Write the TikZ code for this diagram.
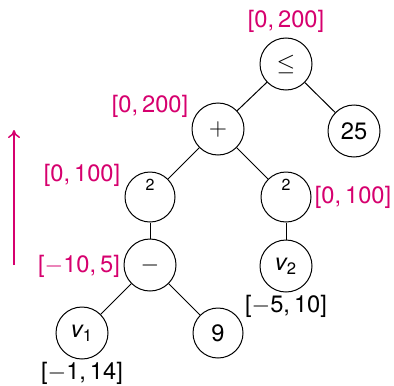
\documentclass[tikz,border=0pt]{standalone}
\usepackage{fontspec}
\setmainfont{TeX Gyre Heros}
\usetikzlibrary{arrows.meta}
\definecolor{mag}{RGB}{214,0,110}
\begin{document}
\begin{tikzpicture}[x=0.5pt,y=-0.5pt,
  every node/.style={font=\fontsize{11.85}{14}\selectfont},
  nd/.style={circle,draw,line width=0.5pt,minimum size=26pt,inner sep=0pt},
  sm/.style={nd,minimum size=25pt},
  lbl/.style={text=mag,inner sep=0pt},
  blbl/.style={text=black,inner sep=0pt},
  edge/.style={line width=0.5pt}]
\useasboundingbox (0,0) rectangle (394,385);
% nodes
\node[nd] (le) at (286,64) {$\leq$};
\node[nd] (plus) at (218,129) {$+$};
\node[nd] (c25) at (354,131) {25};
\node[sm] (sqL) at (150,197) {\smash{\raisebox{3.2pt}{\fontsize{8}{8}\selectfont 2}}};
\node[sm] (sqR) at (286,197) {\smash{\raisebox{3.2pt}{\fontsize{8}{8}\selectfont 2}}};
\node[nd] (minus) at (150,265) {$-$};
\node[nd] (v2) at (286,266) {{\itshape v}\textsubscript{2}};
\node[nd] (v1) at (82,333) {{\itshape v}\textsubscript{1}};
\node[sm] (c9) at (218,333) {9};
% edges
\draw[edge] (le) -- (plus);
\draw[edge] (le) -- (c25);
\draw[edge] (plus) -- (sqL);
\draw[edge] (plus) -- (sqR);
\draw[edge] (sqL) -- (minus);
\draw[edge] (sqR) -- (v2);
\draw[edge] (minus) -- (v1);
\draw[edge] (minus) -- (c9);
% labels
\node[lbl] (lle) at (286,21) {[0,\,200]};
\node[lbl] (lplus) at (150,106) {[0,\,200]};
\node[lbl] (lsqL) at (82,175) {[0,\,100]};
\node[lbl] (lsqR) at (353,197) {[0,\,100]};
\node[lbl] (lminus) at (79,266) {[$-$10,\,5]};
\node[blbl] (lv2) at (286,306) {[$-$5,\,10]};
\node[blbl] (lv1) at (82,373) {[$-$1,\,14]};
% arrow
\coordinate (abot) at (14,265);
\coordinate (atop) at (14,130);
\draw[mag,line width=0.75pt,-{To[length=4pt,width=6pt]}] (abot) -- (atop);
\end{tikzpicture}
\end{document}
